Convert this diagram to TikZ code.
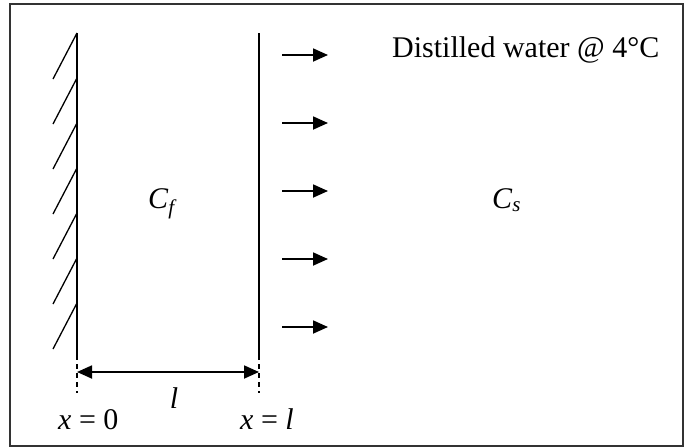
\documentclass[tikz,border=0pt]{standalone}
\usepackage{fontspec}
\setmainfont{Liberation Serif}
\usetikzlibrary{arrows.meta,positioning}

\begin{document}
\begin{tikzpicture}[
    x=1pt, y=-1pt,
    font=\fontsize{30}{34}\selectfont,
    frame/.style={draw=black!80, line width=2pt},
    wall/.style={line width=1.6pt},
    hatch/.style={line width=1.3pt},
    guide/.style={line width=1.6pt, dash pattern=on 5pt off 4pt},
    flow/.style={-{Triangle[length=15pt,width=13pt]}, line width=1.8pt},
    dim/.style={{Triangle[length=15pt,width=13pt]}-{Triangle[length=15pt,width=13pt]}, line width=1.8pt},
    txt/.style={inner sep=0pt, anchor=base west}
  ]
    \useasboundingbox (0,0) rectangle (684,447);
    \draw[frame] (10,4) rectangle (683,446);

    \coordinate (walltop) at (77,33);
    \coordinate (wallbot) at (77,355);
    \coordinate (wallfoot) at (77,393);
    \coordinate (memtop) at (259,33);
    \coordinate (membot) at (259,355);
    \coordinate (memfoot) at (259,393);
    \coordinate (dimleft) at (77,372);
    \coordinate (dimright) at (259,372);

    \draw[wall] (walltop) -- (wallbot);
    \draw[guide] (wallbot) -- (wallfoot);
    \draw[wall] (memtop) -- (membot);
    \draw[guide] (membot) -- (memfoot);

    \draw[hatch] (77,33) -- ++(-24,46);
    \draw[hatch] (77,78) -- ++(-24,46);
    \draw[hatch] (77,123) -- ++(-24,46);
    \draw[hatch] (77,168) -- ++(-24,46);
    \draw[hatch] (77,213) -- ++(-24,46);
    \draw[hatch] (77,258) -- ++(-24,46);
    \draw[hatch] (77,303) -- ++(-24,46);

    \coordinate (out1) at (282,55);
    \coordinate (out2) at (282,123);
    \coordinate (out3) at (282,191);
    \coordinate (out4) at (282,259);
    \coordinate (out5) at (282,327);
    \draw[flow] (out1) -- ++(46,0);
    \draw[flow] (out2) -- ++(46,0);
    \draw[flow] (out3) -- ++(46,0);
    \draw[flow] (out4) -- ++(46,0);
    \draw[flow] (out5) -- ++(46,0);

    \draw[dim] (dimleft) -- (dimright);

    \node[txt] (water) at (392,57) {Distilled water @ 4°C};
    \node[txt] (cfeed) at (148,208) {\textit{C}\textsubscript{\textit{f}}};
    \node[txt] (cstrip) at (492,208) {\textit{C}\textsubscript{\textit{s}}};
    \node[inner sep=0pt, anchor=base] (thick) at (174,408) {\textit{l}};
    \node[txt] (xzero) at (58,429) {\textit{x} = 0};
    \node[txt] (xell) at (240,429) {\textit{x} = \textit{l}};
\end{tikzpicture}
\end{document}
